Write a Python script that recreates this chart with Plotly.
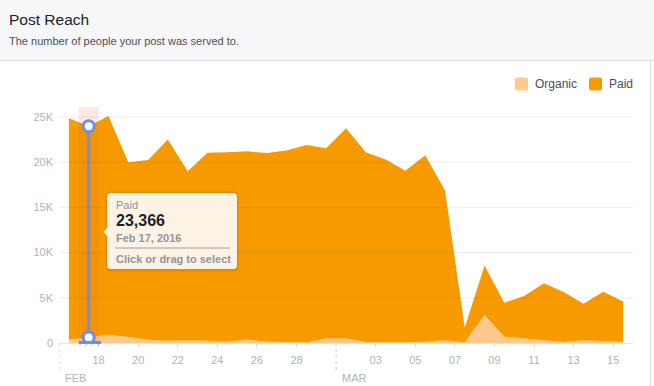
import plotly.graph_objects as go

# ---------------- data ----------------
dates = ['2016-02-16', '2016-02-17', '2016-02-18', '2016-02-19', '2016-02-20', '2016-02-21',
         '2016-02-22', '2016-02-23', '2016-02-24', '2016-02-25', '2016-02-26', '2016-02-27',
         '2016-02-28', '2016-02-29', '2016-03-01', '2016-03-02', '2016-03-03', '2016-03-04',
         '2016-03-05', '2016-03-06', '2016-03-07', '2016-03-08', '2016-03-09', '2016-03-10',
         '2016-03-11', '2016-03-12', '2016-03-13', '2016-03-14', '2016-03-15']
organic = [350, 600, 900, 650, 350, 250, 300, 250, 150, 400, 150, 100, 50, 500, 500,
           100, 50, 50, 150, 300, 50, 3100, 700, 500, 300, 100, 300, 250, 150]
paid = [24500, 23366, 24200, 19350, 19890, 22250, 18700, 20800, 20950, 20800, 20850, 21200,
        21850, 21050, 23250, 21000, 20250, 19010, 20610, 16600, 1650, 5460, 3760, 4700,
        6300, 5540, 4050, 5430, 4450]
x_tick_vals = ['2016-02-18', '2016-02-20', '2016-02-22', '2016-02-24', '2016-02-26', '2016-02-28',
               '2016-03-03', '2016-03-05', '2016-03-07', '2016-03-09', '2016-03-11', '2016-03-13',
               '2016-03-15']
x_tick_text = ['18', '20', '22', '24', '26', '28', '03', '05', '07', '09', '11', '13', '15']
y_tick_vals = [0, 5000, 10000, 15000, 20000, 25000]
y_tick_text = ['0', '5K', '10K', '15K', '20K', '25K']
months = [('2016-02-16', 'FEB'), ('2016-03-01', 'MAR')]
selected = 1  # Feb 17

# ---------------- styles ----------------
W, H = 654, 386
L, R, T, B = 59, 633, 107, 343
ORANGE = '#f79a00'
LIGHT = '#fec98b'
BLUE = '#6e8fe6'
FONT = 'Liberation Sans, Arial, sans-serif'
YMAX = 26100


def px(x):
    return (x - L) / (R - L)


def py(y):
    return (B - y) / (B - T)


xs = [d + ' 12:00' for d in dates]
fig = go.Figure()
fig.add_trace(go.Scatter(x=xs, y=organic, stackgroup='one', mode='lines', line=dict(width=0),
                         fillcolor=LIGHT, name='Organic', hoverinfo='skip'))
fig.add_trace(go.Scatter(x=xs, y=paid, stackgroup='one', mode='lines', line=dict(width=0),
                         fillcolor=ORANGE, name='Paid', hoverinfo='skip'))

# selection column highlight
d0 = dates[selected]
d1 = dates[selected + 1]
fig.add_trace(go.Scatter(x=[d0, d0, d1, d1, d0], y=[0, YMAX, YMAX, 0, 0], fill='toself',
                         mode='lines', line=dict(width=0), fillcolor='rgba(225,100,50,0.15)',
                         hoverinfo='skip', showlegend=False))

shapes = []
# gridlines (drawn over areas, faint)
for v in y_tick_vals[1:]:
    shapes.append(dict(type='line', xref='paper', yref='y', x0=0, x1=1, y0=v, y1=v,
                       line=dict(color='rgba(0,0,0,0.07)', width=1), layer='above'))

# bottom selection handle
shapes.append(dict(type='line', xref='x', yref='paper', x0=d0, x1=d1 + ' 03:00',
                   y0=py(342.5), y1=py(342.5), line=dict(color=BLUE, width=3), layer='above'))
shapes.append(dict(type='line', xref='x', yref='paper', x0=d0, x1=d1 + ' 03:00',
                   y0=py(345), y1=py(345), line=dict(color='rgba(110,143,230,0.3)', width=1.5, dash='dot'),
                   layer='above'))

fig.add_trace(go.Scatter(x=[xs[selected], xs[selected]],
                         y=[organic[selected], organic[selected] + paid[selected]],
                         mode='lines+markers', line=dict(color=BLUE, width=3),
                         marker=dict(size=11, color='white', line=dict(color=BLUE, width=3)),
                         hoverinfo='skip', showlegend=False))

# month separators
annotations = []
for d, lab in months:
    shapes.append(dict(type='line', xref='x', yref='paper', x0=d, x1=d, y0=0, y1=py(372),
                       line=dict(color='#c8cbd0', width=1, dash='dot'), layer='above'))
    annotations.append(dict(x=d, xref='x', y=py(378), yref='paper', text=lab, showarrow=False,
                            xanchor='left', yanchor='middle', xshift=4,
                            font=dict(family=FONT, size=11, color='#b0b3b8')))

# header
shapes.append(dict(type='rect', xref='paper', yref='paper', x0=px(-2), x1=px(W + 2), y0=py(60), y1=py(-2),
                   fillcolor='#f6f7f9', line=dict(width=0), layer='below'))
shapes.append(dict(type='line', xref='paper', yref='paper', x0=px(-2), x1=px(W + 2), y0=py(60.5), y1=py(60.5),
                   line=dict(color='#dddfe2', width=1)))
shapes.append(dict(type='line', xref='paper', yref='paper', x0=px(650.5), x1=px(650.5), y0=py(60.5), y1=py(H + 2),
                   line=dict(color='#dddfe2', width=1)))
annotations.append(dict(x=px(7), y=py(19.5), xref='paper', yref='paper', text='Post Reach',
                        showarrow=False, xanchor='left', yanchor='middle',
                        font=dict(family=FONT, size=15.5, color='#1d2129')))
annotations.append(dict(x=px(7), y=py(40.5), xref='paper', yref='paper',
                        text='The number of people your post was served to.',
                        showarrow=False, xanchor='left', yanchor='middle',
                        font=dict(family=FONT, size=11, color='#4b4f56')))

# legend
for (x0, lab, col) in [(515, 'Organic', LIGHT), (589, 'Paid', ORANGE)]:
    shapes.append(dict(type='path', xref='paper', yref='paper',
                       path=('M {a},{b} L {c},{b} Q {e},{b} {e},{f} L {e},{g} Q {e},{h} {c},{h} '
                             'L {a},{h} Q {i},{h} {i},{g} L {i},{f} Q {i},{b} {a},{b} Z').format(
                           a=px(x0 + 2), c=px(x0 + 11), e=px(x0 + 13), i=px(x0),
                           b=py(77.5), f=py(79.5), g=py(88.5), h=py(90.5)),
                       fillcolor=col, line=dict(width=0)))
    annotations.append(dict(x=px(x0 + 18), y=py(84), xref='paper', yref='paper', text=lab,
                            showarrow=False, xanchor='left', yanchor='middle',
                            font=dict(family=FONT, size=12, color='#4b4f56')))


# tooltip
def rrect(x0, y0, x1, y1, r):
    return ('M {a},{t} L {b},{t} Q {x1},{t} {x1},{c} L {x1},{d} Q {x1},{bt} {b},{bt} '
            'L {a},{bt} Q {x0},{bt} {x0},{d} L {x0},{c} Q {x0},{t} {a},{t} Z').format(
        a=px(x0 + r), b=px(x1 - r), x0=px(x0), x1=px(x1), t=py(y0), bt=py(y1),
        c=py(y0 + r), d=py(y1 - r))


shapes.append(dict(type='path', xref='paper', yref='paper', path=rrect(105, 191, 239, 272, 6),
                   fillcolor='rgba(150,70,0,0.10)', line=dict(width=0)))
shapes.append(dict(type='path', xref='paper', yref='paper', path=rrect(106, 192, 238, 270.5, 5),
                   fillcolor='rgba(150,70,0,0.10)', line=dict(width=0)))
shapes.append(dict(type='path', xref='paper', yref='paper', path=rrect(107, 193, 237, 269, 4),
                   fillcolor='#fdf3e4', line=dict(width=0)))
shapes.append(dict(type='path', xref='paper', yref='paper',
                   path='M {a},{b} L {c},{d} L {a},{e} Z'.format(a=px(107.5), b=py(227.5), c=px(103.5),
                                                                  d=py(232), e=py(236.5)),
                   fillcolor='#fdf3e4', line=dict(width=0)))
shapes.append(dict(type='line', xref='paper', yref='paper', x0=px(115), x1=px(230), y0=py(248), y1=py(248),
                   line=dict(color='#9a9da3', width=1)))

tip_lines = [
    ('Paid', 204.5, 11, '#90949c', False),
    ('{:,}'.format(paid[selected]), 220, 16, '#1d2129', True),
    ('Feb {}, 2016'.format(int(dates[selected][-2:])), 238, 11, '#90949c', True),
    ('Click or drag to select', 259, 11, '#90949c', True),
]
for txt, yy, sz, col, bold in tip_lines:
    annotations.append(dict(x=px(114), y=py(yy), xref='paper', yref='paper',
                            text='<b>' + txt + '</b>' if bold else txt,
                            showarrow=False, xanchor='left', yanchor='middle',
                            font=dict(family=FONT, size=sz, color=col)))

fig.update_layout(
    width=W, height=H,
    margin=dict(l=L, r=W - R, t=T, b=H - B, pad=0),
    paper_bgcolor='white', plot_bgcolor='white',
    showlegend=False,
    shapes=shapes, annotations=annotations,
    xaxis=dict(type='date', range=['2016-02-16', '2016-03-16'], tickvals=x_tick_vals,
               ticktext=x_tick_text, showgrid=False, zeroline=False, showline=True,
               linecolor='#e4e6e9', linewidth=1, ticks='outside', ticklen=3, tickcolor='#d5d7db',
               tickfont=dict(family=FONT, size=11, color='#b0b3b8'), ticklabelstandoff=4,
               fixedrange=True),
    yaxis=dict(range=[0, YMAX], tickvals=y_tick_vals, ticktext=y_tick_text, showgrid=False,
               zeroline=False, showline=False, ticks='', ticklabelstandoff=5,
               tickfont=dict(family=FONT, size=11, color='#b0b3b8'), fixedrange=True),
)

fig.write_html('out.html', config={'displayModeBar': False},
               post_script="document.body.style.margin='0';document.body.style.overflow='hidden';")
